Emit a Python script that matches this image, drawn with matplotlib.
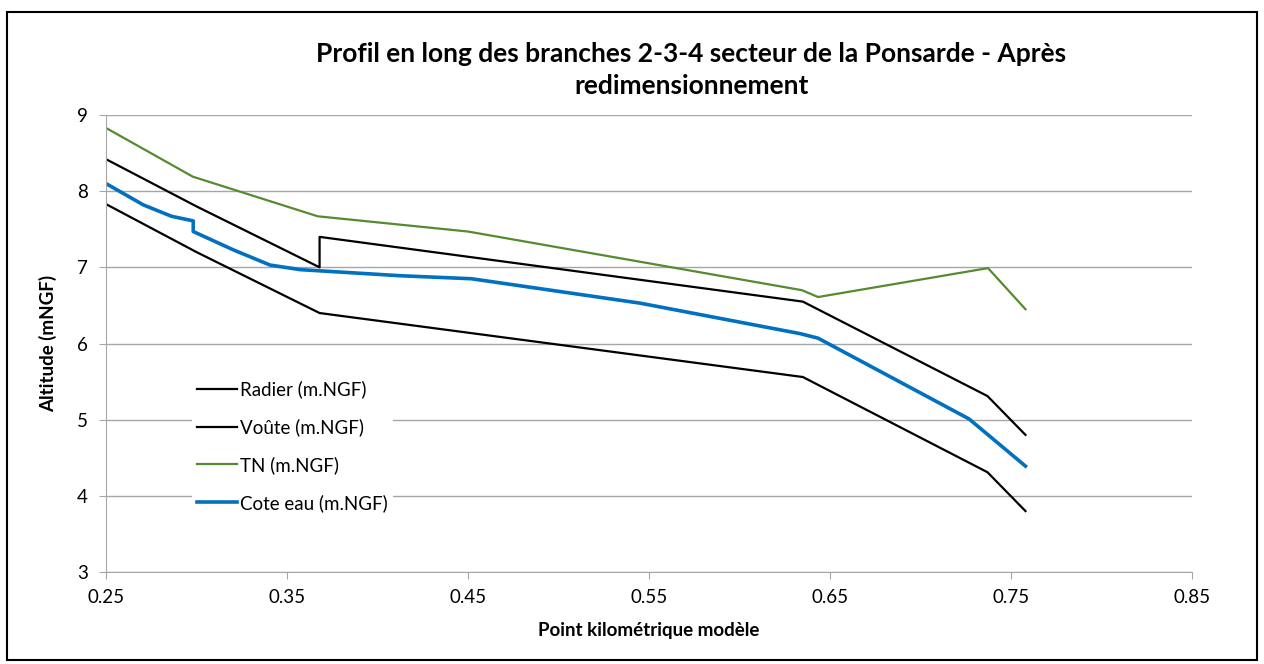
"""Profil en long des branches 2-3-4, secteur de la Ponsarde (après redimensionnement)."""
import matplotlib
matplotlib.use("Agg")
import matplotlib.pyplot as plt
from matplotlib.patches import Rectangle

plt.rcParams["font.family"] = ["Lato", "DejaVu Sans"]

# Radier (m.NGF)
pk_radier = [0.25, 0.30, 0.368, 0.635, 0.737, 0.758]
z_radier = [7.83, 7.20, 6.40, 5.56, 4.31, 3.80]

# Voûte (m.NGF) - saut vertical à 0.368
pk_voute = [0.25, 0.30, 0.368, 0.368, 0.635, 0.737, 0.758]
z_voute = [8.42, 7.80, 7.00, 7.40, 6.55, 5.31, 4.80]

# TN (m.NGF)
pk_tn = [0.25, 0.298, 0.367, 0.45, 0.6345, 0.6434, 0.7373, 0.758]
z_tn = [8.83, 8.19, 7.67, 7.47, 6.70, 6.61, 6.99, 6.45]

# Cote eau (m.NGF)
pk_eau = [0.25, 0.2706, 0.2862, 0.2982, 0.2982, 0.3203, 0.3406, 0.3572, 0.4124,
          0.452, 0.545, 0.6334, 0.6434, 0.7268, 0.758]
z_eau = [8.10, 7.82, 7.67, 7.61, 7.47, 7.23, 7.03, 6.97, 6.89,
         6.85, 6.53, 6.13, 6.07, 5.01, 4.39]

GREEN = "#558B2F"
BLUE = "#0070C0"
GRID = "#A6A6A6"
FS = 13.5

fig = plt.figure(figsize=(12.64, 6.64), dpi=100)
ax = fig.add_axes([106 / 1264, 1 - 572 / 664, 1086 / 1264, 457 / 664])

ax.plot(pk_radier, z_radier, color="black", lw=1.6, label="Radier (m.NGF)")
ax.plot(pk_voute, z_voute, color="black", lw=1.6, label="Voûte (m.NGF)")
ax.plot(pk_tn, z_tn, color=GREEN, lw=1.6, label="TN (m.NGF)")
ax.plot(pk_eau, z_eau, color=BLUE, lw=2.6, label="Cote eau (m.NGF)")

ax.set_xlim(0.25, 0.85)
ax.set_ylim(3, 9)
ax.set_xticks([0.25, 0.35, 0.45, 0.55, 0.65, 0.75, 0.85])
ax.set_xticklabels(["0.25", "0.35", "0.45", "0.55", "0.65", "0.75", "0.85"])
ax.set_yticks(range(3, 10))
ax.yaxis.grid(True, color=GRID, lw=1)
ax.set_axisbelow(True)
for side in ["top", "right"]:
    ax.spines[side].set_visible(False)
for side in ["left", "bottom"]:
    ax.spines[side].set_color(GRID)
ax.tick_params(axis="both", colors=GRID, labelcolor="black", labelsize=FS, length=5)
ax.tick_params(axis="x", pad=7)
ax.tick_params(axis="y", pad=8)

ax.set_xlabel("Point kilométrique modèle", fontsize=FS, fontweight="bold", labelpad=12)
ax.set_ylabel("Altitude (mNGF)", fontsize=FS, fontweight="bold", labelpad=14)
fig.text(0.547, 1 - 70 / 664, "Profil en long des branches 2-3-4 secteur de la Ponsarde - Après\nredimensionnement",
         ha="center", va="center", fontsize=19, fontweight="bold", linespacing=1.35)

leg = ax.legend(loc="upper left", bbox_to_anchor=(0.079, 0.432), frameon=True, fontsize=FS,
                handlelength=2.1, handletextpad=0.15, labelspacing=1.07, borderpad=0.3,
                borderaxespad=0)
leg.get_frame().set_edgecolor("none")
leg.get_frame().set_facecolor("white")
leg.get_frame().set_alpha(1)
leg.get_frame().set_boxstyle("square", pad=0)

fig.patches.append(Rectangle((7 / 1264, 4 / 664), 1250 / 1264, 648 / 664, transform=fig.transFigure,
                             fill=False, edgecolor="black", lw=1.5))

fig.savefig("out.png", dpi=100)
